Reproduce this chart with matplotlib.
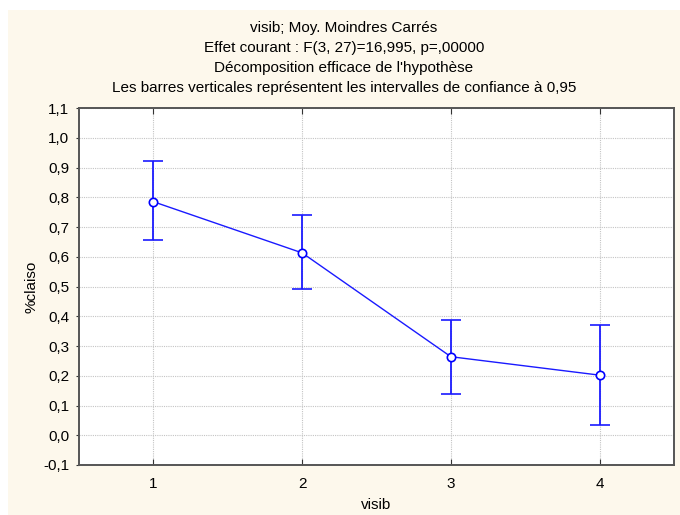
import numpy as np
import matplotlib.pyplot as plt

plt.rcParams['font.family'] = ['Liberation Sans', 'DejaVu Sans']

# data
visib = [1, 2, 3, 4]
moy = [0.785, 0.613, 0.264, 0.202]
ci_low = [0.657, 0.491, 0.139, 0.035]
ci_high = [0.922, 0.740, 0.389, 0.371]

y_ticks = np.arange(-0.1, 1.11, 0.1)
y_labels = ["%.1f" % v for v in y_ticks]
y_labels = [s.replace(".", ",").replace("-0,0", "0,0") for s in y_labels]

titles = ["visib; Moy. Moindres Carrés",
          "Effet courant : F(3, 27)=16,995, p=,00000",
          "Décomposition efficace de l'hypothèse",
          "Les barres verticales représentent les intervalles de confiance à 0,95"]

W, H = 680, 515
fs = 11
fig = plt.figure(figsize=(W / 100, H / 100), dpi=100)
fig.patch.set_facecolor('white')
bg = plt.Rectangle((8 / W, 0), 1, 1 - 10 / H, transform=fig.transFigure,
                   facecolor='#fdf8ec', edgecolor='none', zorder=-10)
fig.patches.append(bg)

ax = fig.add_axes([79 / W, 1 - 465 / H, (674 - 79) / W, (465 - 108) / H])
ax.set_facecolor('white')

m = np.array(moy)
err = [m - np.array(ci_low), np.array(ci_high) - m]
ax.errorbar(visib, moy, yerr=err, color='#1a1aff', lw=1, elinewidth=1.3,
            capsize=7, capthick=1.3, marker='o', ms=6, mfc='white',
            mec='#0000ff', mew=1.2, zorder=3)

ax.set_xlim(0.5, 4.5)
ax.set_ylim(-0.1, 1.1)
ax.set_xticks(visib)
ax.set_yticks(y_ticks)
ax.set_yticklabels(y_labels)
ax.grid(True, color='#c4c4c4', ls=(0, (1, 1)), lw=0.8)
ax.set_axisbelow(True)
ax.tick_params(axis='both', direction='in', length=4, labelsize=fs,
               colors='#333333', labelcolor='black', top=True)
ax.tick_params(axis='x', pad=9)
ax.tick_params(axis='y', direction='out', length=2, pad=5)
for s in ax.spines.values():
    s.set_color('#555555')
    s.set_linewidth(1.4)

ax.set_xlabel('visib', fontsize=fs, labelpad=5)
ax.set_ylabel('%claiso', fontsize=fs, labelpad=3)

for i, t in enumerate(titles):
    fig.text(0.5 + 8 / W / 2, 1 - (28 + 20 * i) / H, t, ha='center', va='center',
             fontsize=fs)

fig.savefig('out.png', dpi=100, facecolor=fig.get_facecolor())
